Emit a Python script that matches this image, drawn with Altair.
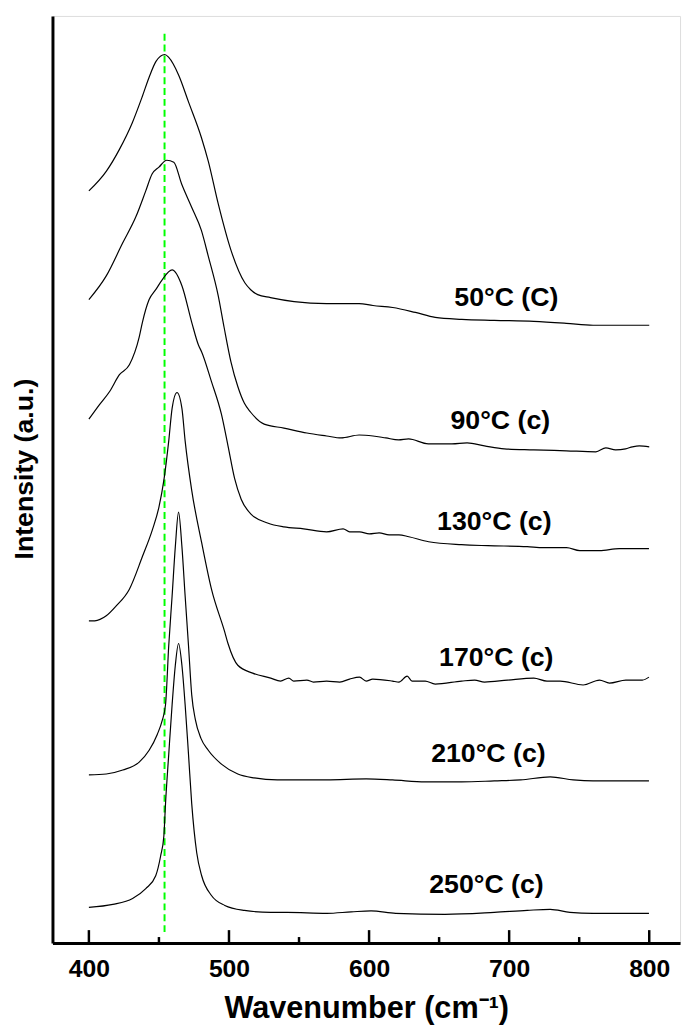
import altair as alt
import pandas as pd

# ---- data (intensity in arbitrary units) ----
wn_50 = [400, 412.5, 421.8, 431, 438, 443, 447.9, 454.2, 457, 464.1, 471.1, 480.3, 485.2, 492.3, 501.4,
         511.3, 515.5, 520.5, 529.6, 546.5, 569.7, 592.9, 602.8, 616.9, 633.1, 647.2, 666.2, 689.4,
         717.6, 740.8, 759.9, 800]
int_50 = [761, 781, 803, 830, 856, 876, 892, 899, 896, 878, 851, 815, 791, 748, 701,
          668, 661, 656, 653, 649, 647, 647, 645, 643, 638, 633, 631, 630,
          629, 627, 625, 625]

wn_90 = [400, 412.4, 424, 433.6, 440.6, 445.1, 450, 455.6, 460.6, 466.2, 473.2, 480.3, 485.2, 492.3,
         496.5, 501.4, 506.3, 511, 515.5, 525.1, 539.2, 555.6, 569.7, 580, 592.9, 602.8, 612, 621.1,
         628.2, 642.3, 659.2, 670, 682.4, 696.5, 717.6, 740.8, 761.9, 769, 776, 783.1, 788, 792.9, 800]
int_90 = [651, 675, 708, 735, 761, 778, 785, 792, 790, 768, 745, 721, 695, 655,
          623, 588, 563, 546, 537, 525, 521, 516, 513, 511, 514, 513, 511, 509,
          510, 505, 505, 506, 503, 500, 499, 498, 497, 501, 499, 500, 502, 503, 502]

wn_130 = [400, 407.7, 414.8, 421.8, 428.9, 435.9, 438.2, 443, 447.7, 452.3, 459.4, 466.4, 473.4,
          478.2, 480.5, 487.5, 494.6, 499.3, 504, 508.7, 515.7, 527.5, 539.2, 553.3, 569.7, 581.5,
          586.1, 593.2, 600.2, 607.2, 614.3, 621.3, 628.4, 642.5, 666, 684.7, 712.9, 724.6, 741,
          750.4, 764.5, 778.6, 799.8]
int_130 = [530, 545, 558, 575, 585, 613, 628, 651, 661, 671, 681, 665, 628,
           605, 598, 568, 535, 503, 470, 449, 434, 425, 421, 419, 416, 419,
           416, 416, 414, 415, 413, 413, 411, 406, 403, 402, 401, 400, 400,
           397, 397, 399, 399]

wn_170 = [400, 404.2, 412.4, 419.5, 428.9, 438.2, 445.3, 450, 453.5, 457, 459.4, 462.9, 466.4,
          468.7, 473.4, 480.5, 487.5, 496.9, 499.3, 506.3, 516.9, 529.8, 536.8, 542.7, 546.2, 555.6,
          560.3, 569.7, 579.1, 586.1, 593.2, 597.9, 602.6, 616.7, 621.3, 627.2, 630.7, 640.1, 647.2,
          666, 675.4, 682.4, 698.8, 717.6, 727, 736.4, 752.8, 764.5, 771.6, 783.3, 795.1, 799.8]
int_170 = [326, 326, 331, 341, 358, 391, 418, 441, 468, 508, 541, 557, 541,
           508, 458, 405, 358, 315, 303, 281, 273, 268, 265, 268, 265, 266,
           264, 265, 264, 267, 269, 265, 267, 265, 264, 270, 265, 265, 262,
           265, 266, 264, 266, 268, 265, 265, 261, 266, 263, 266, 266, 269]

wn_210 = [400, 412.4, 424.2, 435.9, 443, 448.8, 452.3, 454.7, 457, 459.4, 461.7, 464, 466.4, 468.7,
          471.1, 473.4, 476, 480, 485.2, 494.6, 506.3, 518.1, 534.5, 569.7, 597.9, 616.7, 640.1, 666,
          689.4, 708.2, 729.3, 745.8, 759.9, 799.8]
int_210 = [170, 171, 175, 183, 195, 211, 225, 241, 301, 351, 401, 436, 401, 351,
           301, 251, 226, 207, 195, 181, 171, 167, 165, 165, 166, 165, 163, 163,
           164, 165, 168, 165, 164, 164]

wn_250 = [400, 417.1, 431.2, 440.6, 447.7, 451.2, 453.5, 454.7, 457, 459.4, 461.7, 464, 466.4,
          468.7, 471.1, 473.4, 477, 480.5, 487.5, 497, 511, 529.8, 541.5, 569.7, 587.3, 601.4, 619,
          654.2, 689.4, 712.9, 729.3, 743.4, 759.9, 799.8]
int_250 = [36, 39, 45, 55, 68, 88, 108, 141, 191, 241, 281, 303, 281,
           241, 191, 141, 91, 68, 48, 38, 33, 31, 31, 30, 31.5, 32.5, 30,
           29, 31, 33, 34, 31, 30, 30]

series_labels = ["50°C (C)", "90°C (c)", "130°C (c)", "170°C (c)", "210°C (c)", "250°C (c)"]
label_wn = [698, 693.7, 689.4, 690.8, 685.2, 683.8]
label_int = [645, 520, 418, 280, 183, 51]

marker_wn = [454]
marker_span = [11, 924]

major_ticks = [400, 500, 600, 700, 800]
minor_ticks = [450, 550, 650, 750]

x_domain = [374, 822]
y_domain = [0, 938]

# ---- tables ----
curves = [(wn_50, int_50), (wn_90, int_90), (wn_130, int_130),
          (wn_170, int_170), (wn_210, int_210), (wn_250, int_250)]
rows = []
for name, (ws, vs) in zip(series_labels, curves):
    for w, v in zip(ws, vs):
        rows.append({"series": name, "wn": w, "inten": v})
df = pd.DataFrame(rows)
labels_df = pd.DataFrame({"label": series_labels, "wn": label_wn, "inten": label_int})
marker_df = pd.DataFrame({"wn": marker_wn, "y1": [marker_span[0]], "y2": [marker_span[1]]})
major_df = pd.DataFrame({"wn": major_ticks})
minor_df = pd.DataFrame({"wn": minor_ticks})

FONT = "Liberation Sans"
W, H = 635, 938

xs = alt.Scale(domain=x_domain, nice=False, zero=False)
ys = alt.Scale(domain=y_domain, nice=False, zero=False)

x_axis = alt.Axis(values=major_ticks, ticks=False, grid=False, domainWidth=3, domainColor="black",
                  labelFont=FONT, labelFontSize=25, labelFontWeight="bold", labelColor="black",
                  labelPadding=14, title="Wavenumber (cm⁻¹)", titleFont=FONT, titleFontSize=31,
                  titleFontWeight="bold", titleColor="black", titlePadding=12)
y_axis = alt.Axis(labels=False, ticks=False, grid=False, domainWidth=3, domainColor="black",
                  title="Intensity (a.u.)", titleFont=FONT, titleFontSize=27, titleFontWeight="bold",
                  titleColor="black", titlePadding=14, titleY=458)

lines = alt.Chart(df).mark_line(color="black", strokeWidth=1.2, interpolate="monotone").encode(
    x=alt.X("wn:Q", scale=xs, axis=x_axis),
    y=alt.Y("inten:Q", scale=ys, axis=y_axis),
    detail="series:N",
)

marker = alt.Chart(marker_df).mark_rule(color="#00FF00", strokeWidth=2, strokeDash=[7, 4]).encode(
    x=alt.X("wn:Q", scale=xs),
    y=alt.Y("y1:Q", scale=ys),
    y2="y2:Q",
)

texts = alt.Chart(labels_df).mark_text(font=FONT, fontSize=27, fontWeight="bold", color="black",
                                        align="center", baseline="alphabetic").encode(
    x=alt.X("wn:Q", scale=xs),
    y=alt.Y("inten:Q", scale=ys),
    text="label:N",
)

major = alt.Chart(major_df).mark_rule(color="black", strokeWidth=2.5).encode(
    x=alt.X("wn:Q", scale=xs),
    y=alt.value(H),
    y2=alt.value(H - 13),
)
minor = alt.Chart(minor_df).mark_rule(color="black", strokeWidth=2.5).encode(
    x=alt.X("wn:Q", scale=xs),
    y=alt.value(H),
    y2=alt.value(H - 6),
)

chart = alt.layer(marker, lines, major, minor, texts).properties(
    width=W, height=H,
    autosize=alt.AutoSizeParams(type="none"),
    padding={"left": 45, "top": 2, "right": 5, "bottom": 80},
).configure_view(stroke="black", strokeWidth=1).configure(background="white")

chart.save("out.html", embed_options={"renderer": "svg", "actions": False})
